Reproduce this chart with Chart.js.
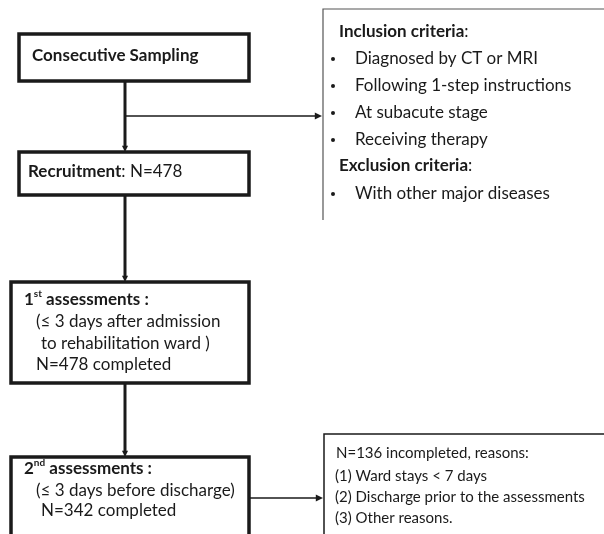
<!DOCTYPE html>
<html lang="en">
<head>
<meta charset="UTF-8">
<title>Study flow</title>
<script src="https://cdn.jsdelivr.net/npm/chart.js"></script>
<style>
  body { margin: 0; background: #fff; }
  #wrap { width: 604px; height: 534px; position: relative; }
</style>
</head>
<body>
<div id="wrap"><canvas id="flow"></canvas></div>
<script>
// counts in the flow
const recruited = 478;
const firstCompleted = 478;
const secondCompleted = 342;
const incompleted = recruited - secondCompleted; // 136

// list texts
const inclusionCriteria = ['Diagnosed by CT or MRI', 'Following 1-step instructions', 'At subacute stage', 'Receiving therapy'];
const exclusionCriteria = ['With other major diseases'];
const dropReasons = ['(1) Ward stays < 7 days', '(2) Discharge prior to the assessments', '(3) Other reasons.'];

const FONT = 'Lato, "Open Sans", sans-serif';
const INK = '#1a1a1a';
const MAIN = 17;   // font size in the main boxes
const SMALL = 15;  // font size in the drop-out box

// draws the flowchart in scale units (x 0..604, y 0..534 top-down)
const flowPlugin = {
  id: 'flow',
  afterDraw(chart) {
    const ctx = chart.ctx;
    const sx = v => chart.scales.x.getPixelForValue(v);
    const sy = v => chart.scales.y.getPixelForValue(v);

    function box(x1, y1, x2, y2, lw, color, sides) {
      ctx.save();
      ctx.strokeStyle = color;
      ctx.lineWidth = lw;
      ctx.beginPath();
      if (sides === 'open') {
        // no right side or bottom (cropped figure)
        ctx.moveTo(sx(x1), sy(y2));
        ctx.lineTo(sx(x1), sy(y1));
        ctx.lineTo(sx(x2), sy(y1));
      } else if (sides === 'nobottom') {
        ctx.moveTo(sx(x1), sy(y2));
        ctx.lineTo(sx(x1), sy(y1));
        ctx.lineTo(sx(x2), sy(y1));
        ctx.lineTo(sx(x2), sy(y2));
      } else {
        ctx.rect(sx(x1), sy(y1), sx(x2) - sx(x1), sy(y2) - sy(y1));
      }
      ctx.stroke();
      ctx.restore();
    }

    function arrow(x1, y1, x2, y2, lw, head) {
      ctx.save();
      ctx.strokeStyle = INK;
      ctx.fillStyle = INK;
      ctx.lineWidth = lw;
      const ang = Math.atan2(sy(y2) - sy(y1), sx(x2) - sx(x1));
      const ex = sx(x2) - Math.cos(ang) * head * 0.8;
      const ey = sy(y2) - Math.sin(ang) * head * 0.8;
      ctx.beginPath();
      ctx.moveTo(sx(x1), sy(y1));
      ctx.lineTo(ex, ey);
      ctx.stroke();
      ctx.beginPath();
      ctx.moveTo(sx(x2), sy(y2));
      ctx.lineTo(sx(x2) - head * Math.cos(ang - 0.45), sy(y2) - head * Math.sin(ang - 0.45));
      ctx.lineTo(sx(x2) - head * Math.cos(ang + 0.45), sy(y2) - head * Math.sin(ang + 0.45));
      ctx.closePath();
      ctx.fill();
      ctx.restore();
    }

    // runs: [text, bold, size, raise]
    function text(x, y, runs) {
      ctx.save();
      ctx.fillStyle = INK;
      ctx.textBaseline = 'middle';
      ctx.textAlign = 'left';
      let cx = sx(x);
      runs.forEach(r => {
        ctx.font = (r[1] ? 'bold ' : '') + r[2] + 'px ' + FONT;
        ctx.fillText(r[0], cx, sy(y) - (r[3] || 0));
        cx += ctx.measureText(r[0]).width;
      });
      ctx.restore();
    }

    function bullet(x, y) {
      ctx.save();
      ctx.fillStyle = INK;
      ctx.beginPath();
      ctx.arc(sx(x), sy(y), 2, 0, Math.PI * 2);
      ctx.fill();
      ctx.restore();
    }

    // connectors
    arrow(125, 81, 125, 152, 3, 7);
    arrow(125, 116, 322, 116, 1.5, 8);
    arrow(125, 195, 125, 282, 3, 7);
    arrow(125, 383, 125, 457, 3, 7);
    arrow(249, 498, 323, 498, 1.5, 8);

    // boxes
    box(19, 34, 249, 81, 3.5, INK);
    box(19, 152, 249, 195, 3.5, INK);
    box(11, 282, 249, 383, 3.5, INK);
    box(11, 457, 249, 540, 3.5, INK, 'nobottom');
    box(323, 9, 610, 220, 1.2, '#555', 'open');
    box(324, 434, 610, 540, 1.5, INK, 'open');

    // box texts
    text(32, 56, [['Consecutive Sampling', true, MAIN]]);
    text(28, 172, [['Recruitment', true, MAIN], [': N=' + recruited, false, MAIN]]);

    text(24, 300, [['1', true, MAIN], ['st', true, 10, 6], [' assessments :', true, MAIN]]);
    text(36, 322, [['(\u2264 3 days after admission', false, MAIN]]);
    text(41, 344, [['to rehabilitation ward )', false, MAIN]]);
    text(36, 365, [['N=' + firstCompleted + ' completed', false, MAIN]]);

    text(24, 469, [['2', true, MAIN], ['nd', true, 10, 6], [' assessments :', true, MAIN]]);
    text(36, 491, [['(\u2264 3 days before discharge)', false, MAIN]]);
    text(41, 511, [['N=' + secondCompleted + ' completed', false, MAIN]]);

    // criteria box
    let y = 32;
    text(339, y, [['Inclusion criteria', true, MAIN], [':', false, MAIN]]);
    inclusionCriteria.forEach(s => {
      y += 27;
      bullet(333, y);
      text(355, y, [[s, false, MAIN]]);
    });
    y += 26;
    text(339, y, [['Exclusion criteria', true, MAIN], [':', false, MAIN]]);
    exclusionCriteria.forEach(s => {
      y += 28;
      bullet(333, y);
      text(355, y, [[s, false, MAIN]]);
    });

    // drop-out box
    text(336, 453, [['N=' + incompleted + ' incompleted, reasons:', false, SMALL]]);
    dropReasons.forEach((s, i) => {
      text(335, 476 + i * 21, [[s, false, SMALL]]);
    });
  }
};

new Chart(document.getElementById('flow'), {
  type: 'scatter',
  data: { datasets: [{ data: [], pointRadius: 0 }] },
  options: {
    responsive: true,
    maintainAspectRatio: false,
    devicePixelRatio: 1,
    animation: false,
    events: [],
    layout: { padding: 0 },
    plugins: { legend: { display: false }, tooltip: { enabled: false } },
    scales: {
      x: { type: 'linear', min: 0, max: 604, display: false },
      y: { type: 'linear', min: 0, max: 534, reverse: true, display: false }
    }
  },
  plugins: [flowPlugin]
});
</script>
</body>
</html>
